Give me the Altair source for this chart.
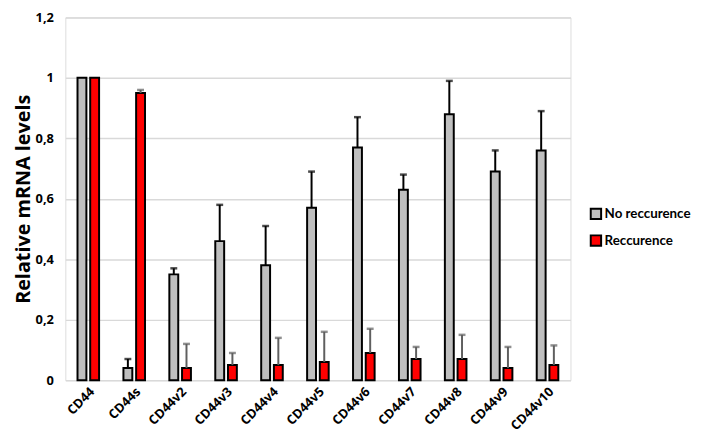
import altair as alt
import pandas as pd

categories = ["CD44", "CD44s", "CD44v2", "CD44v3", "CD44v4", "CD44v5",
              "CD44v6", "CD44v7", "CD44v8", "CD44v9", "CD44v10"]
series = ["No reccurence", "Reccurence"]
no_rec = [1.0, 0.04, 0.35, 0.46, 0.38, 0.57, 0.77, 0.63, 0.88, 0.69, 0.76]
no_rec_err = [0.0, 0.03, 0.02, 0.12, 0.13, 0.12, 0.10, 0.05, 0.11, 0.07, 0.13]
rec = [1.0, 0.95, 0.04, 0.05, 0.05, 0.06, 0.09, 0.07, 0.07, 0.04, 0.05]
rec_err = [0.0, 0.01, 0.08, 0.04, 0.09, 0.10, 0.08, 0.04, 0.08, 0.07, 0.065]
y_ticks = [0, 0.2, 0.4, 0.6, 0.8, 1.0, 1.2]

rows = []
for i, c in enumerate(categories):
    rows.append({"cat": c, "series": series[0], "value": no_rec[i],
                 "upper": no_rec[i] + no_rec_err[i], "err": no_rec_err[i], "ec": "#000000"})
    rows.append({"cat": c, "series": series[1], "value": rec[i],
                 "upper": rec[i] + rec_err[i], "err": rec_err[i], "ec": "#5f5f5f"})
df = pd.DataFrame(rows)

FONT = "Open Sans"

x = alt.X("cat:N", sort=categories,
          scale=alt.Scale(paddingInner=0.53, paddingOuter=0.265),
          axis=alt.Axis(title=None, labelAngle=-45, labelFontSize=13, labelFontWeight="bold",
                        labelColor="#000000", ticks=False, domain=False, labelPadding=5,
                        labelFont=FONT))
xo = alt.XOffset("series:N", sort=series, scale=alt.Scale(paddingInner=0.3, paddingOuter=0))
y = alt.Y("value:Q", scale=alt.Scale(domain=[0, 1.2], nice=False),
          axis=alt.Axis(values=y_ticks, title="Relative mRNA levels",
                        labelExpr="replace(format(datum.value, '~g'), '.', ',')",
                        labelFontSize=13, labelFontWeight="bold", labelColor="#000000",
                        labelFont=FONT, labelPadding=12, ticks=False, domain=False,
                        grid=True, gridColor="#D9D9D9", gridWidth=1.5,
                        titleFontSize=20, titleFontWeight="bold", titleColor="#000000",
                        titleFont=FONT, titlePadding=2))

bars = alt.Chart(df).mark_bar(stroke="black", strokeWidth=2).encode(
    x=x, xOffset=xo, y=y,
    fill=alt.Fill("series:N", sort=series,
                  scale=alt.Scale(domain=series, range=["#BFBFBF", "#FF0000"]),
                  legend=alt.Legend(title=None, orient="none", legendX=530, legendY=192,
                                    symbolType="square", symbolSize=110,
                                    symbolStrokeColor="black", symbolStrokeWidth=2,
                                    labelFontSize=13.5, labelFontWeight="bold",
                                    labelColor="#000000", labelFont="Lato",
                                    rowPadding=8, labelOffset=2))
)

errdf = alt.Chart(df).transform_filter("datum.err > 0")
rules = errdf.mark_rule(strokeWidth=2).encode(
    x=x, xOffset=xo, y="value:Q", y2="upper:Q",
    stroke=alt.Stroke("ec:N", scale=None)
)
caps = errdf.mark_tick(thickness=2.5, size=7).encode(
    x=x, xOffset=xo, y="upper:Q",
    color=alt.Color("ec:N", scale=None)
)

chart = alt.layer(bars, rules, caps).properties(
    width=511, height=367,
    autosize=alt.AutoSizeParams(type="none"),
    padding={"left": 58, "top": 7, "right": 129, "bottom": 58},
).configure_view(stroke=None).configure(background="white")

chart.save("out.html", embed_options={"renderer": "svg", "actions": False})
